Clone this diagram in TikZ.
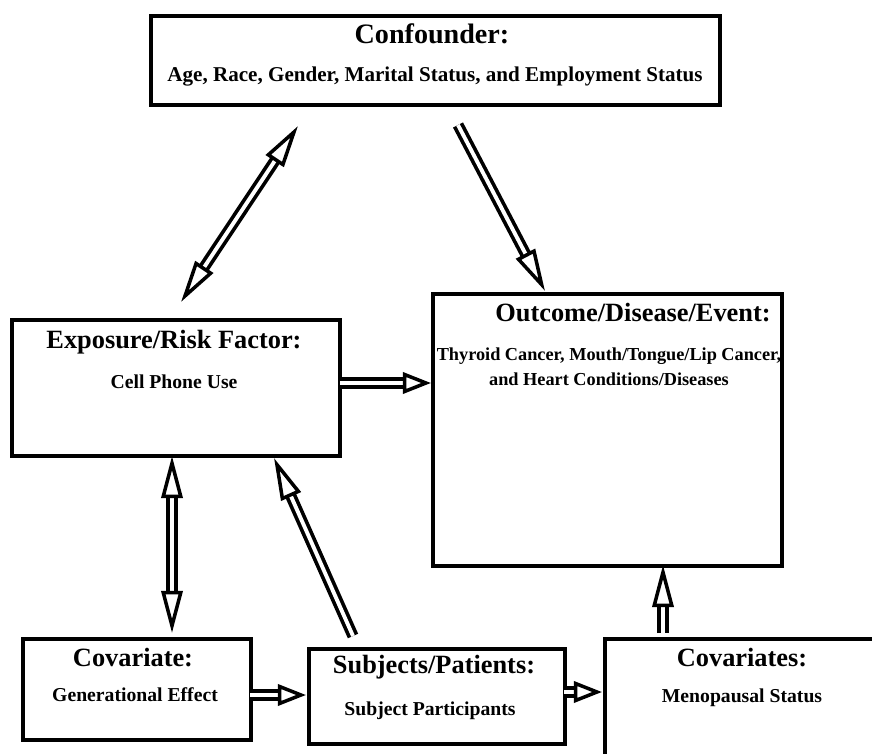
\documentclass[tikz,border=0pt]{standalone}
\usepackage{fontspec}
\setmainfont{Liberation Serif}
\usetikzlibrary{arrows.meta}

\tikzset{
  Hollow/.tip={Triangle[length=12pt, width=6pt, fill=white, line width=1pt]},
  HollowShort/.tip={Triangle[length=8pt, width=6pt, fill=white, line width=1pt]}
}

\begin{document}
\begin{tikzpicture}[
  box/.style={draw, line width=1.25pt, inner sep=0pt},
  shaft/.style={double=white, double distance=1.1pt, line width=1.05pt},
  hollow/.style={shaft, -Hollow},
  hollowshort/.style={shaft, -HollowShort},
  hollowboth/.style={shaft, Hollow-Hollow},
  title/.style={font=\bfseries\fontsize{7.5}{9}\selectfont},
  sub/.style={font=\bfseries\fontsize{5.6}{7.2}\selectfont, align=center},
]

 \useasboundingbox (0,0) rectangle (8.72,7.53);
 \clip (0,0) rectangle (8.72,7.53);

 % boxes
 \node[box, anchor=north west, minimum width=5.69cm, minimum height=0.89cm] (conf)  at (1.49,7.39) {};
 \node[box, anchor=north west, minimum width=3.28cm, minimum height=1.36cm] (expo)  at (0.10,4.35) {};
 \node[box, anchor=north west, minimum width=3.49cm, minimum height=2.72cm] (outc)  at (4.31,4.61) {};
 \node[box, anchor=north west, minimum width=2.28cm, minimum height=1.01cm] (covar) at (0.21,1.16) {};
 \node[box, anchor=north west, minimum width=2.56cm, minimum height=0.95cm] (subj)  at (3.07,1.06) {};
 \node[box, anchor=north west, minimum width=2.78cm, minimum height=1.33cm] (covs)  at (6.03,1.16) {};

 % labels
 \node[title, font=\bfseries\fontsize{8}{9}\selectfont] (confT) at (4.32,7.19) {Confounder:};
 \node[sub, font=\bfseries\fontsize{6}{7.2}\selectfont] (confS) at (4.35,6.76) {Age, Race, Gender, Marital Status, and Employment Status};
 \node[title] (expoT)  at (1.74,4.11) {Exposure/Risk Factor:};
 \node[sub]   (expoS)  at (1.74,3.71) {Cell Phone Use};
 \node[title] (outcT)  at (6.33,4.40) {Outcome/Disease/Event:};
 \node[sub, font=\bfseries\fontsize{5.2}{7.2}\selectfont] (outcS) at (6.09,3.86) {Thyroid Cancer, Mouth/Tongue/Lip Cancer,\\ and Heart Conditions/Diseases};
 \node[title] (covarT) at (1.33,0.95) {Covariate:};
 \node[sub]   (covarS) at (1.35,0.58) {Generational Effect};
 \node[title] (subjT)  at (4.34,0.86) {Subjects/Patients:};
 \node[sub]   (subjS)  at (4.30,0.42) {Subject Participants};
 \node[title] (covsT)  at (7.42,0.95) {Covariates:};
 \node[sub]   (covsS)  at (7.42,0.55) {Menopausal Status};

 % arrow ends
 \coordinate (A1) at (2.98,6.27);
 \coordinate (A2) at (1.81,4.51);
 \coordinate (B1) at (4.58,6.28);
 \coordinate (B2) at (5.45,4.62);
 \coordinate (C1) at (3.40,3.70);
 \coordinate (C2) at (4.31,3.70);
 \coordinate (D1) at (1.72,2.97);
 \coordinate (D2) at (1.72,1.20);
 \coordinate (E1) at (3.53,1.17);
 \coordinate (E2) at (2.74,2.95);
 \coordinate (F1) at (2.50,0.58);
 \coordinate (F2) at (3.06,0.58);
 \coordinate (G1) at (5.64,0.61);
 \coordinate (G2) at (6.02,0.61);
 \coordinate (H1) at (6.63,1.20);
 \coordinate (H2) at (6.63,1.88);

 % arrows
 \draw[hollowboth] (A2) -- (A1);
 \draw[hollow] (B1) -- (B2);
 \draw[hollowshort] (C1) -- (C2);
 \draw[hollowboth] (D1) -- (D2);
 \draw[hollow] (E1) -- (E2);
 \draw[hollowshort] (F1) -- (F2);
 \draw[hollowshort] (G1) -- (G2);
 \draw[hollow] (H1) -- (H2);

\end{tikzpicture}
\end{document}
